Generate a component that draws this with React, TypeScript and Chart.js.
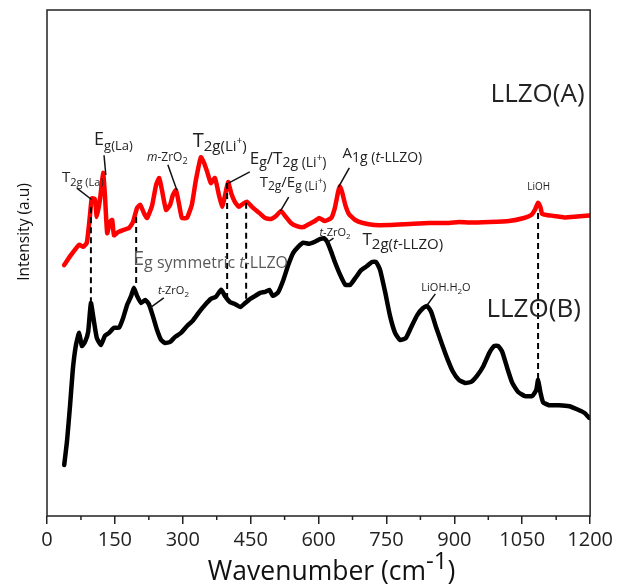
import React, { useEffect, useRef } from 'react';
import { Chart, registerables } from 'chart.js';

Chart.register(...registerables);

const FONT = "'Open Sans', 'DejaVu Sans', sans-serif";

// Raman spectrum LLZO(A) (red) : [wavenumber, intensity]
const seriesA: [number, number][] = [
  [38, 49.6], [53, 51.6], [71, 53.6], [80, 53.2], [88, 54.0], [95, 59.5], [99, 62.8], [106, 62.6],
  [110, 59.1], [117, 62.5], [124, 67.8], [128, 63.4], [133, 55.9], [139, 58.1], [144, 58.5], [148, 55.5],
  [157, 56.1], [168, 56.5], [181, 56.9], [190, 58.1], [199, 60.9], [206, 61.5], [214, 59.9], [221, 58.9],
  [232, 61.3], [241, 65.4], [248, 66.8], [254, 64.4], [263, 60.5], [272, 61.5], [278, 63.4], [285, 64.4],
  [292, 61.5], [298, 58.9], [309, 58.9], [320, 61.5], [329, 66.4], [340, 70.9], [347, 69.8], [354, 68.0],
  [362, 65.8], [371, 66.8], [380, 63.4], [387, 61.1], [393, 63.2], [400, 66.0], [407, 63.8], [415, 62.1],
  [424, 61.1], [433, 61.7], [442, 62.1], [453, 61.1], [469, 59.9], [482, 58.9], [495, 58.7], [506, 59.3],
  [517, 60.3], [526, 59.3], [539, 57.9], [552, 57.3], [566, 57.1], [579, 57.7], [592, 58.3], [601, 58.9],
  [614, 58.3], [628, 58.9], [636, 60.9], [643, 64.0], [647, 65.2], [652, 64.0], [659, 61.5], [667, 59.7],
  [681, 58.5], [698, 57.9], [723, 57.5], [756, 57.5], [800, 57.7], [844, 57.9], [888, 57.9], [910, 58.1],
  [933, 58.0], [977, 58.1], [1021, 58.3], [1054, 58.9], [1070, 59.5], [1078, 60.5], [1085, 61.9], [1090, 61.1],
  [1094, 59.7], [1103, 59.5], [1120, 59.3], [1143, 59.0], [1171, 59.2], [1198, 59.4],
];

// Raman spectrum LLZO(B) (black)
const seriesB: [number, number][] = [
  [38, 10.1], [44, 14.6], [51, 21.9], [57, 28.9], [64, 33.8], [71, 36.2], [77, 33.6], [84, 34.4],
  [91, 36.4], [97, 42.1], [104, 38.3], [110, 35.2], [119, 33.8], [128, 35.6], [137, 36.2], [148, 37.2],
  [159, 37.2], [168, 39.1], [177, 41.7], [186, 43.5], [192, 45.1], [199, 43.5], [208, 42.1], [217, 42.7],
  [225, 41.9], [234, 39.5], [243, 36.8], [252, 34.8], [261, 34.2], [272, 34.4], [283, 35.4], [296, 36.2],
  [309, 37.5], [323, 38.7], [336, 40.3], [349, 41.7], [362, 42.9], [373, 43.3], [385, 44.7], [393, 43.5],
  [404, 42.3], [415, 41.9], [427, 41.3], [438, 42.1], [449, 42.9], [460, 43.5], [471, 44.1], [482, 44.3],
  [491, 44.7], [499, 43.5], [510, 44.1], [522, 46.6], [533, 49.6], [544, 52.0], [555, 53.2], [566, 54.0],
  [579, 53.8], [592, 54.2], [603, 54.7], [612, 54.9], [619, 54.2], [628, 52.2], [636, 50.2], [648, 47.6],
  [659, 45.7], [670, 45.7], [681, 47.0], [694, 48.6], [707, 49.4], [718, 50.2], [727, 50.2], [736, 48.6],
  [747, 44.3], [758, 39.5], [769, 36.2], [780, 34.8], [793, 35.2], [804, 37.2], [818, 39.7], [831, 41.1],
  [840, 41.5], [849, 40.3], [860, 37.2], [871, 34.4], [884, 31.2], [897, 28.5], [910, 26.9], [924, 26.3],
  [937, 26.5], [950, 27.7], [964, 29.6], [977, 32.2], [988, 33.6], [997, 33.6], [1006, 32.4], [1017, 29.2],
  [1028, 26.3], [1041, 24.5], [1056, 23.7], [1072, 23.7], [1081, 24.9], [1085, 26.9], [1090, 24.5], [1096, 22.5],
  [1109, 21.9], [1131, 21.9], [1154, 21.7], [1171, 21.1], [1187, 20.4], [1198, 19.4],
];

// Dashed guide lines linking the two spectra
const dropWavenumbers = [97, 197, 398, 440, 1085];
const dropTop = [61, 59.1, 65.8, 61.9, 59.9];
const dropBottom = [42, 45.3, 43.3, 42.7, 26.9];

const xMin = 0;
const xMax = 1200;
const xStep = 150;

// Peak labels: anchor [wavenumber, intensity]; parts: [text, size, dy, italic]
type Part = [string, number, number, boolean?];
const labels: { at: [number, number]; parts: Part[]; color?: string }[] = [
  { at: [33, 66.0], parts: [['T', 15, 0], ['2g (La)', 11, 4]] },
  { at: [104, 73.3], parts: [['E', 18, 0], ['g(La)', 13, 5]] },
  { at: [221, 70.2], parts: [['m', 12, 0, true], ['-ZrO', 12, 0], ['2', 9, 3]] },
  { at: [322, 72.9], parts: [['T', 20, 0], ['2g(Li', 15, 4], ['+', 10, -3], [')', 15, 4]] },
  { at: [448, 69.6], parts: [['E', 17, 0], ['g', 14, 3], ['/T', 17, 0], ['2g (Li', 14, 3], ['+', 10, -3], [')', 14, 3]] },
  { at: [470, 65.0], parts: [['T', 15, 0], ['2g', 12, 3], ['/E', 15, 0], ['g', 12, 3], [' (Li', 12, 3], ['+', 9, -3], [')', 12, 3]] },
  { at: [653, 70.8], parts: [['A', 15, 0], ['1g (', 14, 4], ['t', 14, 4, true], ['-LLZO)', 14, 4]] },
  { at: [1061, 64.4], parts: [['LiOH', 10, 0]] },
  { at: [980, 81.8], parts: [['LLZO(A)', 26, 0]] },
  { at: [971, 39.3], parts: [['LLZO(B)', 26, 0]] },
  { at: [190, 49.6], parts: [['E', 20, 0], ['g symmetric ', 16, 3], ['t', 16, 3, true], ['-LLZO', 16, 3]], color: '#595959' },
  { at: [245, 43.9], parts: [['t', 11, 0, true], ['-ZrO', 11, 0], ['2', 8, 3]] },
  { at: [602, 55.3], parts: [['t', 11, 0, true], ['-ZrO', 11, 0], ['2', 8, 3]] },
  { at: [697, 53.6], parts: [['T', 17, 0], ['2g(', 15, 4], ['t', 15, 4, true], ['-LLZO)', 15, 4]] },
  { at: [827, 44.5], parts: [['LiOH.H', 11, 0], ['2', 8, 3], ['O', 11, 0]] },
];

// Leader lines: [w1, v1, w2, v2]
const leaders: [number, number, number, number][] = [
  [66, 64.8, 99, 62.5],
  [126, 71.3, 130, 67.4],
  [267, 69.4, 287, 64.4],
  [448, 68.0, 401, 65.8],
  [534, 63.0, 516, 60.3],
  [668, 68.8, 644, 65.0],
  [258, 43.1, 227, 41.1],
  [633, 54.9, 618, 54.0],
  [858, 43.9, 840, 41.7],
];

function drawRich(ctx: CanvasRenderingContext2D, x: number, y: number, parts: Part[], color: string, draw = true) {
  let cx = x;
  for (const [text, size, dy, italic] of parts) {
    ctx.font = `${italic ? 'italic ' : ''}${size}px ${FONT}`;
    ctx.fillStyle = color;
    ctx.textBaseline = 'alphabetic';
    ctx.textAlign = 'left';
    if (draw) ctx.fillText(text, cx, y + dy);
    cx += ctx.measureText(text).width;
  }
  return cx - x;
}

const decorPlugin = {
  id: 'decor',
  afterDraw(chart: any) {
    const { ctx, chartArea: a, scales } = chart;
    const xs = scales.x;
    const ys = scales.y;
    ctx.save();
    ctx.strokeStyle = '#222';
    ctx.lineWidth = 1.5;
    ctx.strokeRect(a.left, a.top, a.right - a.left, a.bottom - a.top);
    // minor ticks
    for (let v = xMin + xStep / 2; v < xMax; v += xStep) {
      const px = xs.getPixelForValue(v);
      ctx.beginPath();
      ctx.moveTo(px, a.bottom);
      ctx.lineTo(px, a.bottom + 4);
      ctx.stroke();
    }
    // leaders
    ctx.strokeStyle = '#111';
    ctx.lineWidth = 1.5;
    for (const [w1, v1, w2, v2] of leaders) {
      ctx.beginPath();
      ctx.moveTo(xs.getPixelForValue(w1), ys.getPixelForValue(v1));
      ctx.lineTo(xs.getPixelForValue(w2), ys.getPixelForValue(v2));
      ctx.stroke();
    }
    // labels
    for (const l of labels) {
      drawRich(ctx, xs.getPixelForValue(l.at[0]), ys.getPixelForValue(l.at[1]), l.parts, l.color || '#222');
    }
    // x title
    const xt: Part[] = [['Wavenumber (cm', 26.5, 0], ['-1', 24, -11], [')', 26.5, 0]];
    const w = drawRich(ctx, 0, 0, xt, '#111', false);
    const cx = (a.left + a.right) / 2 + 13;
    drawRich(ctx, cx - w / 2, a.bottom + 64, xt, '#111');
    // y title
    ctx.save();
    ctx.translate(29, a.top + 222);
    ctx.rotate(-Math.PI / 2);
    ctx.font = `15.5px ${FONT}`;
    ctx.fillStyle = '#111';
    ctx.textAlign = 'center';
    ctx.textBaseline = 'alphabetic';
    ctx.fillText('Intensity (a.u)', 0, 0);
    ctx.restore();
    ctx.restore();
  },
};

export default function App() {
  const ref = useRef<HTMLCanvasElement>(null);
  useEffect(() => {
    if (!ref.current) return;
    const drops = dropWavenumbers.map((w, i) => ({
      data: [{ x: w, y: dropTop[i] }, { x: w, y: dropBottom[i] }],
      borderColor: '#000',
      borderWidth: 2,
      borderDash: [6, 4],
      pointRadius: 0,
      fill: false,
    }));
    const chart = new Chart(ref.current, {
      type: 'line',
      data: {
        datasets: [
          ...drops,
          {
            label: 'LLZO(A)',
            data: seriesA.map(([x, y]) => ({ x, y })),
            borderColor: '#ff0000',
            borderWidth: 4.5,
            pointRadius: 0,
            tension: 0.15,
            borderJoinStyle: 'round',
            borderCapStyle: 'round',
          },
          {
            label: 'LLZO(B)',
            data: seriesB.map(([x, y]) => ({ x, y })),
            borderColor: '#000000',
            borderWidth: 4.5,
            pointRadius: 0,
            tension: 0.15,
            borderJoinStyle: 'round',
            borderCapStyle: 'round',
          },
        ] as any,
      },
      options: {
        animation: false,
        responsive: false,
        devicePixelRatio: 1,
        layout: { padding: { left: 0, right: 26, top: 10, bottom: 0 } },
        plugins: { legend: { display: false }, tooltip: { enabled: false } },
        scales: {
          x: {
            type: 'linear',
            min: xMin,
            max: xMax,
            ticks: {
              stepSize: xStep,
              font: { size: 20, family: FONT },
              color: '#222',
              padding: 4,
              maxRotation: 0,
              autoSkip: false,
              callback: (v: any) => String(v),
            },
            grid: { display: true, drawOnChartArea: false, drawTicks: true, tickLength: 8, color: '#222', lineWidth: 1.5 },
            border: { display: false },
            afterFit: (s: any) => { s.height = 71; },
          },
          y: {
            min: 0,
            max: 100,
            ticks: { display: false },
            grid: { display: false },
            border: { display: false },
            afterFit: (s: any) => { s.width = 47; },
          },
        },
      },
      plugins: [decorPlugin],
    });
    return () => chart.destroy();
  }, []);
  return (
    <div style={{ position: 'absolute', left: 0, top: 0, width: 617, height: 587 }}>
      <canvas ref={ref} width={617} height={587} style={{ display: 'block' }} />
    </div>
  );
}
